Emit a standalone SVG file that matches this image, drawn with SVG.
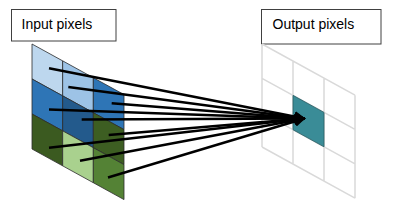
<svg xmlns="http://www.w3.org/2000/svg" width="397" height="219" viewBox="0 0 397 219">
  <style>
    .lbl { fill: #ffffff; stroke: #404040; stroke-width: 1; }
    .txt { font-family: "Liberation Sans", Arial, sans-serif; font-size: 14px; fill: #000000; }
    .cell { stroke: #2b2b2b; stroke-width: 0.8; stroke-linejoin: round; }
    .ogrid { fill: none; stroke: #d9d9d9; stroke-width: 1.5; }
    .conn { fill: none; stroke: #000000; stroke-width: 2.4; marker-end: url(#arrow); }
  </style>
  <defs>
    <marker id="arrow" markerUnits="userSpaceOnUse" markerWidth="11" markerHeight="11" viewBox="0 0 10 10" refX="9" refY="5" orient="auto">
      <path d="M0,0 L10,5 L0,10 z" fill="#000000"/>
    </marker>
  </defs>

  <g id="input-label">
    <rect class="lbl" x="11.5" y="9.5" width="104.5" height="31.5"/>
    <text class="txt" x="21.5" y="28.5">Input pixels</text>
  </g>

  <g id="output-label">
    <rect class="lbl" x="261.5" y="9.5" width="119.5" height="34.5"/>
    <text class="txt" x="272.5" y="29">Output pixels</text>
  </g>

  <g id="input-grid">
    <polygon class="cell" fill="#bdd7ee" points="32,44 62.67,60.87 62.67,95.87 32,79"/>
    <polygon class="cell" fill="#9dc3e6" points="62.67,60.87 93.33,77.73 93.33,112.73 62.67,95.87"/>
    <polygon class="cell" fill="#2e75b6" points="93.33,77.73 124,94.6 124,129.6 93.33,112.73"/>
    <polygon class="cell" fill="#2e75b6" points="32,79 62.67,95.87 62.67,130.87 32,114"/>
    <polygon class="cell" fill="#235a8c" points="62.67,95.87 93.33,112.73 93.33,147.73 62.67,130.87"/>
    <polygon class="cell" fill="#3d5e22" points="93.33,112.73 124,129.6 124,164.6 93.33,147.73"/>
    <polygon class="cell" fill="#3b5a20" points="32,114 62.67,130.87 62.67,165.87 32,149"/>
    <polygon class="cell" fill="#a9d18e" points="62.67,130.87 93.33,147.73 93.33,182.73 62.67,165.87"/>
    <polygon class="cell" fill="#548235" points="93.33,147.73 124,164.6 124,199.6 93.33,182.73"/>
  </g>

  <g id="output-grid">
    <path class="ogrid" d="M262,44 V147 M293,61.05 V164.05 M324,78.1 V181.1 M355,95.15 V198.15 M262,44 L355,95.15 M262,78.3 L355,129.45 M262,112.7 L355,163.85 M262,147 L355,198.15"/>
    <polygon id="output-pixel" fill="#3a8c97" stroke="#2a5d63" stroke-width="0.8" points="293,95.35 324,112.4 324,146.8 293,129.75"/>
  </g>

  <g id="connectors">
    <line class="conn" x1="49" y1="68.3" x2="304.5" y2="118.5"/>
    <line class="conn" x1="68.3" y1="87" x2="304.5" y2="118.5"/>
    <line class="conn" x1="111.7" y1="103.3" x2="304.5" y2="118.5"/>
    <line class="conn" x1="49" y1="109.5" x2="304.5" y2="118.5"/>
    <line class="conn" x1="81.7" y1="119.5" x2="304.5" y2="118.5"/>
    <line class="conn" x1="108.7" y1="135" x2="304.5" y2="118.5"/>
    <line class="conn" x1="49" y1="147.7" x2="304.5" y2="118.5"/>
    <line class="conn" x1="80" y1="160.7" x2="304.5" y2="118.5"/>
    <line class="conn" x1="108" y1="177.5" x2="304.5" y2="118.5"/>
  </g>
</svg>
